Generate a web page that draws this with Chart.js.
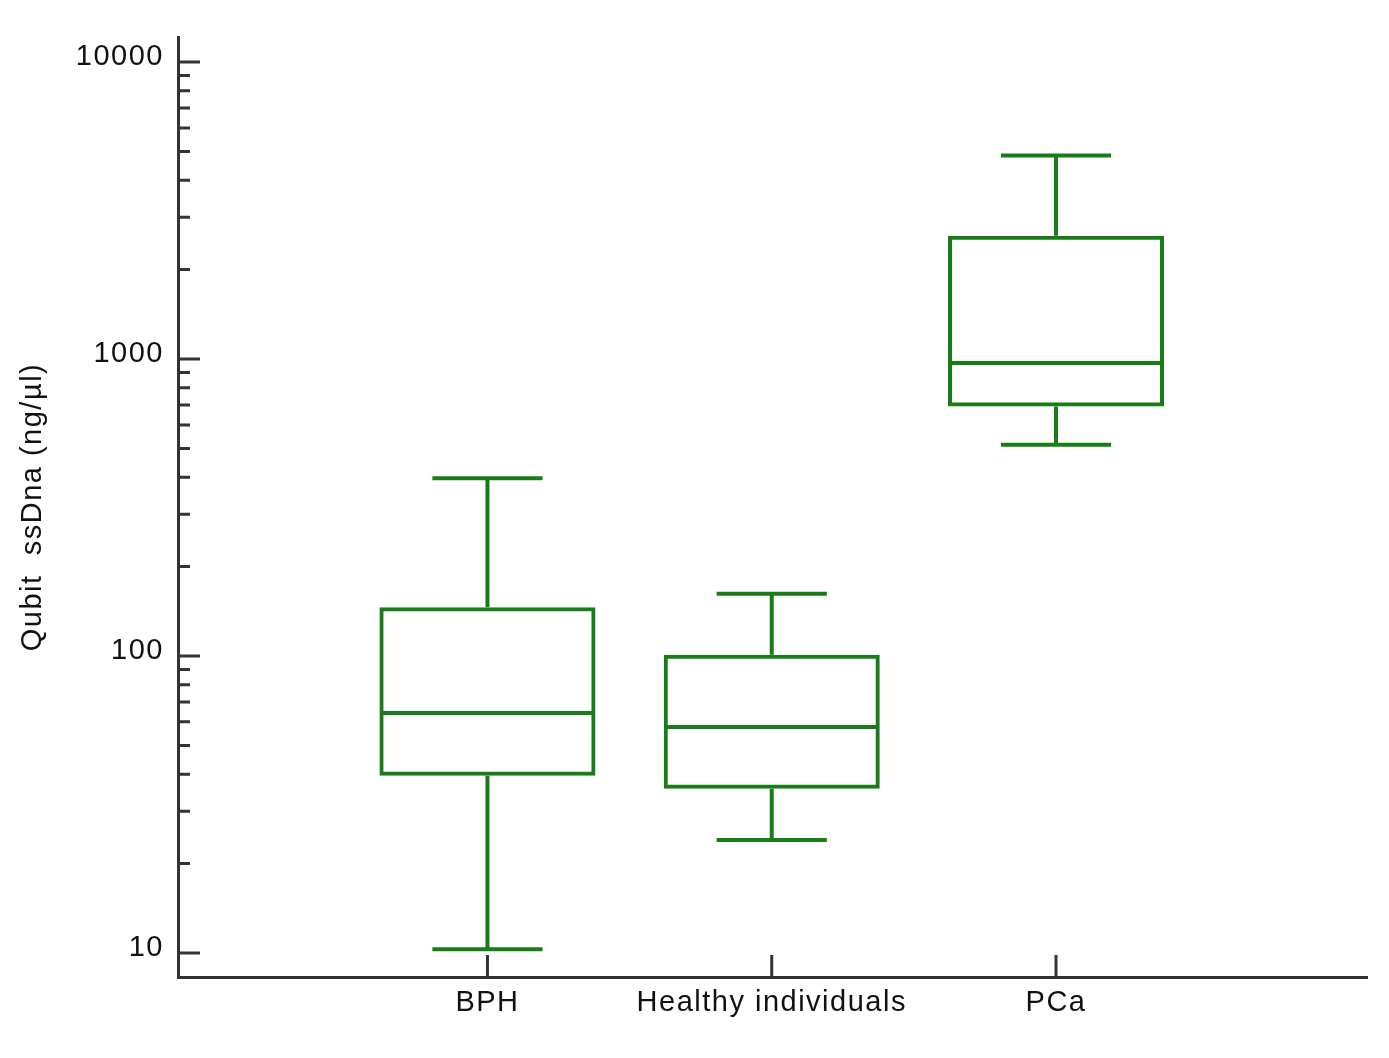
<!DOCTYPE html>
<html lang="en">
<head>
    <meta charset="UTF-8">
    <title>Qubit ssDna</title>
    <style>
        body { margin: 0; background: #fff; }
        #caixa { width: 1389px; height: 1058px; }
    </style>
</head>
<body>
    <div id="caixa">
        <canvas id="grafico"></canvas>
    </div>

<script src="https://cdn.jsdelivr.net/npm/chart.js"></script>
<script>
    // dados (escala log)
    const categorias = ['BPH', 'Healthy individuals', 'PCa'];
    const posicoes = [1, 2, 3];
    const bigodeMin = [10.3, 24.0, 514];
    const quartil1 = [39.5, 35.7, 692];
    const mediana = [64.3, 57.7, 969];
    const quartil3 = [146, 100.9, 2600];
    const bigodeMax = [397, 161.9, 4846];

    const ticksMaiores = [10, 100, 1000, 10000];
    const ticksMenores = [20, 30, 40, 50, 60, 70, 80, 90,
        200, 300, 400, 500, 600, 700, 800, 900,
        2000, 3000, 4000, 5000, 6000, 7000, 8000, 9000];

    const verde = '#187c18';
    const cinza = '#333333';

    const dadosCaixa = [];
    for (let i = 0; i < categorias.length; i++) {
        dadosCaixa.push({ x: posicoes[i], y: [quartil1[i], quartil3[i]] });
    }

    // desenha mediana, bigodes e as marcas dos eixos (viradas pra dentro)
    const pluginBoxplot = {
        id: 'boxplot',
        beforeUpdate(chart) {
            chart.ctx.letterSpacing = '1.5px';
        },
        beforeDraw(chart) {
            chart.ctx.letterSpacing = '1.5px';
        },
        afterDatasetsDraw(chart) {
            const ctx = chart.ctx;
            const escalaX = chart.scales.x;
            const escalaY = chart.scales.y;
            const barras = chart.getDatasetMeta(0).data;
            ctx.save();
            ctx.strokeStyle = verde;
            ctx.lineWidth = 4;
            ctx.lineCap = 'butt';
            for (let i = 0; i < categorias.length; i++) {
                const cx = escalaX.getPixelForValue(posicoes[i]);
                const larg = barras[i].width;
                const meiaTampa = larg * 0.255;
                const yMed = escalaY.getPixelForValue(mediana[i]);
                const yQ1 = escalaY.getPixelForValue(quartil1[i]);
                const yQ3 = escalaY.getPixelForValue(quartil3[i]);
                const yMin = escalaY.getPixelForValue(bigodeMin[i]);
                const yMax = escalaY.getPixelForValue(bigodeMax[i]);

                ctx.beginPath();
                ctx.moveTo(cx - larg / 2 + 2, yMed);
                ctx.lineTo(cx + larg / 2 - 2, yMed);
                // bigode de cima
                ctx.moveTo(cx, yQ3);
                ctx.lineTo(cx, yMax);
                ctx.moveTo(cx - meiaTampa, yMax);
                ctx.lineTo(cx + meiaTampa, yMax);
                // bigode de baixo
                ctx.moveTo(cx, yQ1);
                ctx.lineTo(cx, yMin);
                ctx.moveTo(cx - meiaTampa, yMin);
                ctx.lineTo(cx + meiaTampa, yMin);
                ctx.stroke();
            }
            ctx.restore();
        },
        afterDraw(chart) {
            const ctx = chart.ctx;
            const area = chart.chartArea;
            const escalaX = chart.scales.x;
            const escalaY = chart.scales.y;
            ctx.save();
            ctx.strokeStyle = cinza;
            ctx.lineWidth = 3;
            ctx.beginPath();
            escalaY.ticks.forEach(function (t) {
                const y = escalaY.getPixelForValue(t.value);
                const tam = ticksMaiores.includes(t.value) ? 22 : 12;
                ctx.moveTo(area.left, y);
                ctx.lineTo(area.left + tam, y);
            });
            escalaX.ticks.forEach(function (t) {
                const x = escalaX.getPixelForValue(t.value);
                ctx.moveTo(x, area.bottom);
                ctx.lineTo(x, area.bottom - 22);
            });
            ctx.stroke();
            ctx.restore();
        }
    };

    const ctx = document.getElementById('grafico');

    new Chart(ctx, {
        type: 'bar',
        data: {
            datasets: [{
                data: dadosCaixa,
                backgroundColor: 'rgba(0,0,0,0)',
                borderColor: verde,
                borderWidth: 4,
                borderSkipped: false,
                barPercentage: 0.76,
                categoryPercentage: 1
            }]
        },
        options: {
            responsive: true,
            maintainAspectRatio: false,
            animation: false,
            layout: {
                padding: { top: 37, right: 22, left: 0, bottom: 0 }
            },
            plugins: {
                legend: { display: false },
                tooltip: { enabled: false }
            },
            scales: {
                x: {
                    type: 'linear',
                    offset: false,
                    min: -0.0886,
                    max: 4.094,
                    afterBuildTicks: function (escala) {
                        escala.ticks = posicoes.map(v => ({ value: v }));
                    },
                    afterFit: function (escala) {
                        escala.height = 81;
                    },
                    grid: { display: false, drawTicks: false, offset: false },
                    border: { display: true, color: cinza, width: 3 },
                    ticks: {
                        color: '#111',
                        padding: 9,
                        font: { family: 'Liberation Sans, Arial, sans-serif', size: 29 },
                        callback: function (valor) {
                            return categorias[posicoes.indexOf(valor)] || '';
                        }
                    }
                },
                y: {
                    type: 'logarithmic',
                    min: 8.3,
                    max: 12140,
                    afterBuildTicks: function (escala) {
                        escala.ticks = ticksMaiores.concat(ticksMenores)
                            .sort((a, b) => a - b)
                            .map(v => ({ value: v }));
                    },
                    afterFit: function (escala) {
                        escala.width = 178;
                    },
                    grid: { display: false, drawTicks: false },
                    border: { display: true, color: cinza, width: 3 },
                    ticks: {
                        color: '#111',
                        padding: 14,
                        labelOffset: -5,
                        autoSkip: false,
                        font: { family: 'Liberation Sans, Arial, sans-serif', size: 29 },
                        callback: function (valor) {
                            return ticksMaiores.includes(valor) ? String(valor) : '';
                        }
                    },
                    title: {
                        display: true,
                        text: 'Qubit  ssDna (ng/µl)',
                        color: '#111',
                        padding: { top: 16, bottom: 0 },
                        font: { family: 'Liberation Sans, Arial, sans-serif', size: 29 }
                    }
                }
            }
        },
        plugins: [pluginBoxplot]
    });
</script>
</body>
</html>
